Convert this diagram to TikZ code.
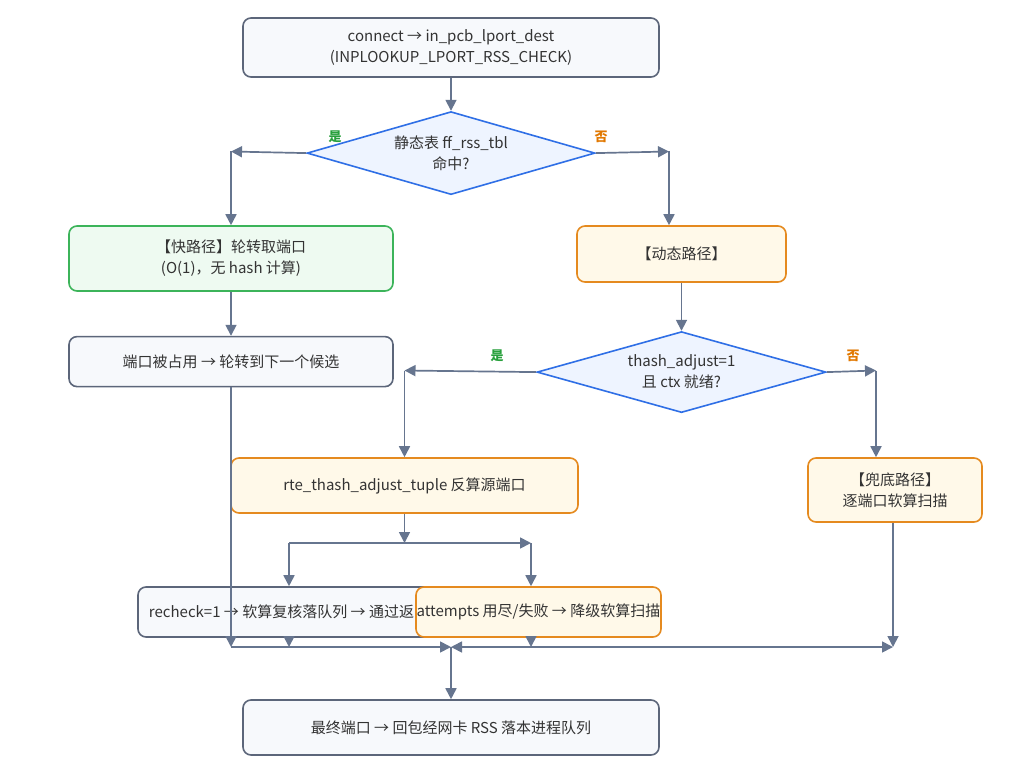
\documentclass[tikz,border=0pt]{standalone}
\usepackage{fontspec}
\setmainfont{Noto Sans CJK SC}
\usetikzlibrary{arrows.meta,positioning,shapes.geometric,calc}

\definecolor{linkgray}{RGB}{102,117,143}
\definecolor{boxgray}{RGB}{92,102,122}
\definecolor{boxfill}{RGB}{247,249,252}
\definecolor{fastgreen}{RGB}{60,180,90}
\definecolor{fastfill}{RGB}{238,250,241}
\definecolor{dynorange}{RGB}{229,138,31}
\definecolor{dynfill}{RGB}{255,249,233}
\definecolor{askblue}{RGB}{47,111,230}
\definecolor{askfill}{RGB}{238,244,255}
\definecolor{yesgreen}{RGB}{40,160,60}
\definecolor{noorange}{RGB}{225,120,0}
\definecolor{textdark}{RGB}{51,51,51}

\begin{document}
\begin{tikzpicture}[
  x=1pt, y=-1pt,
  font=\fontsize{15}{21}\selectfont,
  arrow/.style={-{Triangle[length=11pt,width=11pt]}, line width=1.7pt, draw=linkgray},
  bothway/.style={{Triangle[length=11pt,width=11pt]}-{Triangle[length=11pt,width=11pt]}, line width=1.7pt, draw=linkgray},
  stepbox/.style={draw=boxgray, fill=boxfill, line width=1.6pt, rounded corners=8pt,
    align=center, inner sep=0pt, text=textdark},
  fastbox/.style={stepbox, draw=fastgreen, fill=fastfill},
  dynbox/.style={stepbox, draw=dynorange, fill=dynfill},
  decision/.style={diamond, aspect=3.4, draw=askblue, fill=askfill, line width=1.6pt,
    align=center, inner sep=0pt, text=textdark},
  yeslabel/.style={font=\fontsize{13}{13}\selectfont\bfseries, text=yesgreen},
  nolabel/.style={yeslabel, text=noorange}
]
\useasboundingbox[fill=white] (0,0) rectangle (1024,778);

\node[stepbox, minimum width=416pt, minimum height=59pt] (entry) at (451,47.5)
  {connect → in\_pcb\_lport\_dest\\(INPLOOKUP\_LPORT\_RSS\_CHECK)};
\node[decision, minimum width=288pt, minimum height=83pt, below=33pt of entry] (tblhit)
  {静态表 ff\_rss\_tbl\\命中?};

\node[fastbox, minimum width=324pt, minimum height=65pt] (fastpath) at (231,258.5)
  {【快路径】轮转取端口\\(O(1)，无 hash 计算)};
\node[stepbox, minimum width=324pt, minimum height=50pt, below=44pt of fastpath] (occupied)
  {端口被占用 → 轮转到下一个候选};

\node[dynbox, minimum width=209pt, minimum height=56pt] (dynpath) at (681.5,254)
  {【动态路径】};
\node[decision, minimum width=289pt, minimum height=81pt, below=48pt of dynpath] (ctxready)
  {thash\_adjust=1\\且 ctx 就绪?};

\node[dynbox, minimum width=347pt, minimum height=55pt] (adjtuple) at (404.5,485.5)
  {rte\_thash\_adjust\_tuple 反算源端口};
\node[dynbox, minimum width=174pt, minimum height=64pt] (fallback) at (895,490)
  {【兜底路径】\\逐端口软算扫描};

\node[stepbox, minimum width=302pt, minimum height=50pt] (recheck) at (289,612)
  {recheck=1 → 软算复核落队列 → 通过返回};
\node[dynbox, minimum width=245pt, minimum height=50pt,
  label={[text=textdark]center:attempts 用尽/失败 → 降级软算扫描}] (attempts) at (538.5,612) {};

\node[stepbox, minimum width=416pt, minimum height=55pt] (final) at (451,727.5)
  {最终端口 → 回包经网卡 RSS 落本进程队列};

\node[yeslabel] (hityes) at (335,137) {是};
\node[nolabel] (hitno) at (601,137) {否};
\node[yeslabel] (ctxyes) at (497,356) {是};
\node[nolabel] (ctxno) at (853,356) {否};

\coordinate (yesturn) at (231,151.5);
\coordinate (noturn) at (669,151.5);
\coordinate (adjturn) at (404.5,370.5);
\coordinate (fbturn) at (876,370.5);
\coordinate (split) at (404.5,543);
\coordinate (splitleft) at (289,543);
\coordinate (splitright) at (531,543);
\coordinate (mergeleft) at (231,647);
\coordinate (merge) at (451,647);
\coordinate (mergeright) at (893,647);

\draw[arrow] (entry) -- (tblhit);
\draw[arrow] (tblhit.west) -- (yesturn);
\draw[arrow] (yesturn) -- (fastpath.north);
\draw[arrow] (tblhit.east) -- (noturn);
\draw[arrow] (noturn) -- (noturn |- dynpath.north);
\draw[arrow] (fastpath) -- (occupied);
\draw[arrow] (dynpath) -- (ctxready);
\draw[arrow] (ctxready.west) -- (adjturn);
\draw[arrow] (adjturn) -- (adjtuple.north);
\draw[arrow] (ctxready.east) -- (fbturn);
\draw[arrow] (fbturn) -- (fbturn |- fallback.north);
\draw[arrow] (adjtuple.south) -- (split);
\draw[arrow] (splitleft) -- (splitright);
\draw[arrow] (splitleft) -- (splitleft |- recheck.north);
\draw[arrow] (splitright) -- (splitright |- attempts.north);
\draw[arrow] (occupied.south) -- (mergeleft);
\draw[arrow] (recheck.south) -- (recheck.south |- merge);
\draw[arrow] (splitright |- attempts.south) -- (splitright |- merge);
\draw[arrow] (mergeright |- fallback.south) -- (mergeright);
\draw[arrow] (mergeleft) -- (merge);
\draw[bothway] (merge) -- (mergeright);
\draw[arrow] (merge) -- (final);

\end{tikzpicture}
\end{document}
